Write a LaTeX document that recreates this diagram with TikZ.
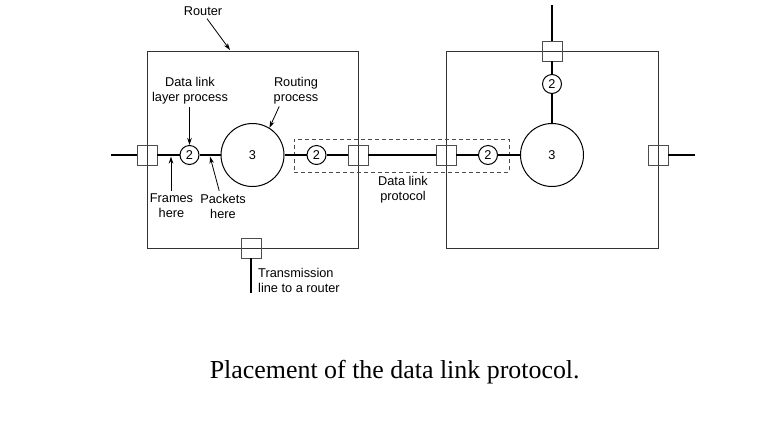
\documentclass[tikz,border=0pt]{standalone}
\usepackage{fontspec}
\setmainfont{Liberation Sans}
\newfontfamily\capfont{Liberation Serif}
\usetikzlibrary{arrows.meta}
\begin{document}
\begin{tikzpicture}[x=1bp,y=-1bp,
  router/.style={draw=black!80, line width=0.9bp, inner sep=0, minimum width=211bp, minimum height=197bp},
  iface/.style={draw=black!70, line width=0.8bp, inner sep=0, minimum size=20bp},
  dl/.style={draw, circle, line width=1bp, inner sep=0, minimum size=19bp, font=\fontsize{12.8}{15}\selectfont},
  rp/.style={draw, circle, line width=1bp, inner sep=0, minimum size=63bp, font=\fontsize{12.8}{15}\selectfont},
  wire/.style={line width=1.4bp},
  lbl/.style={font=\fontsize{12.8}{15}\selectfont, align=center, inner sep=0},
  ptr/.style={-{Stealth[length=7bp,width=4.5bp]}, line width=0.8bp},
  proto/.style={draw=black!70, dash pattern=on 4bp off 3bp, line width=0.9bp, inner sep=0, minimum width=215bp, minimum height=33bp},
]
\useasboundingbox (0,0) rectangle (782,422);
\fill[white] (0,0) rectangle (782,422);

% routers
\node[router] (r1) at (252.5,149.5) {};
\node[router, minimum width=212bp] (r2) at (552,149.5) {};

% data link protocol frame
\node[proto] (dlp) at (401.5,155.5) {};

% interfaces and processes
\node[iface] (i1) at (147,155) {};
\node[dl] (a1) at (189.5,155) {2};
\node[rp] (p1) at (252.5,155) {3};
\node[dl] (a2) at (316.5,155) {2};
\node[iface] (i2) at (358,155) {};
\node[iface] (i3) at (446,155) {};
\node[dl] (a3) at (488,155) {2};
\node[rp] (p2) at (552,155) {3};
\node[iface] (i4) at (658,155) {};
\node[iface] (i5) at (552,51) {};
\node[dl] (a4) at (552,84) {2};
\node[iface] (i6) at (251,248) {};

\coordinate (w1) at (111,155);
\coordinate (w2) at (695,155);
\coordinate (w3) at (552,5);
\coordinate (w4) at (251,293);

% wires
\draw[wire] (w1) -- (i1);
\draw[wire] (i1) -- (a1);
\draw[wire] (a1) -- (p1);
\draw[wire] (p1) -- (a2);
\draw[wire] (a2) -- (i2);
\draw[wire] (i2) -- (i3);
\draw[wire] (i3) -- (a3);
\draw[wire] (a3) -- (p2);
\draw[wire] (i4) -- (w2);
\draw[wire, line width=1.8bp] (w3) -- (i5);
\draw[wire, line width=1.8bp] (i5) -- (a4);
\draw[wire, line width=1.8bp] (a4) -- (p2);
\draw[wire, line width=1.8bp] (i6) -- (w4);

% labels
\node[lbl] (rl) at (203,11) {Router};
\coordinate (ra) at (230,50);
\draw[ptr] ([xshift=4bp,yshift=-3bp]rl.south) -- (ra);

\node[lbl] (dll) at (190,91) {Data link\\layer process};
\draw[ptr, shorten <=2bp] (dll.south -| a1) -- (a1);

\node[lbl] (rpl) at (296,91) {Routing\\process};
\draw[ptr, shorten <=2bp] ([xshift=-16bp]rpl.south) -- (p1.58);

\node[lbl] (fh) at (171.5,206) {Frames\\here};
\coordinate (ft) at (171,156.5);
\draw[ptr, shorten <=3bp] (fh.north -| ft) -- (ft);

\node[lbl] (ph) at (223,206) {Packets\\here};
\coordinate (pt) at (210,156.5);
\draw[ptr, shorten <=3bp] ([xshift=-3bp]ph.north) -- (pt);

\node[lbl] (dlpl) at (403,189.5) {Data link\\protocol};

\node[lbl, anchor=west, align=left] (tl) at (258,280) {Transmission\\line to a router};

\node[inner sep=0, anchor=base, font=\capfont\fontsize{26}{30}\selectfont] (cap) at (394.7,378.3) {Placement of the data link protocol.};
\end{tikzpicture}
\end{document}
